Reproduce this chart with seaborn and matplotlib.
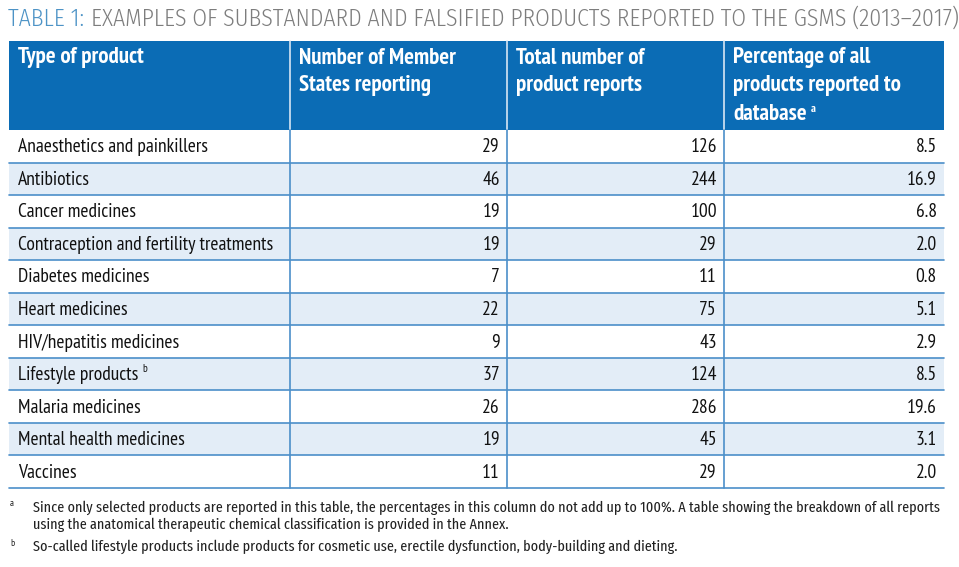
import matplotlib
matplotlib.use("Agg")
import matplotlib.pyplot as plt
import seaborn as sns
import pandas as pd

sns.set_theme(style="white")
plt.rcParams['font.family'] = ['PT Sans Narrow', 'DejaVu Sans']

# table data
products = ["Anaesthetics and painkillers", "Antibiotics", "Cancer medicines",
            "Contraception and fertility treatments", "Diabetes medicines",
            "Heart medicines", "HIV/hepatitis medicines", "Lifestyle products",
            "Malaria medicines", "Mental health medicines", "Vaccines"]
member_states = [29, 46, 19, 19, 7, 22, 9, 37, 26, 19, 11]
product_reports = [126, 244, 100, 29, 11, 75, 43, 124, 286, 45, 29]
percentages = ["8.5", "16.9", "6.8", "2.0", "0.8", "5.1", "2.9", "8.5", "19.6", "3.1", "2.0"]
headers = ["Type of product", "Number of Member\nStates reporting",
           "Total number of\nproduct reports",
           "Percentage of all\nproducts reported to\ndatabase"]
footnotes = [("a", "Since only selected products are reported in this table, the percentages in this column do not add up to 100%. A table showing the breakdown of all reports\nusing the anatomical therapeutic chemical classification is provided in the Annex."),
             ("b", "So-called lifestyle products include products for cosmetic use, erectile dysfunction, body-building and dieting.")]

df = pd.DataFrame({"product": products, "states": member_states,
                   "reports": product_reports, "pct": percentages})

BLUE = "#0b6cb5"
LINE = "#4b8fc9"
STRIPE = "#e3edf7"
INK = "#111111"
TITLE_FONT = ["Fira Sans Condensed", "DejaVu Sans"]
NOTE_FONT = ["Fira Sans Extra Condensed", "DejaVu Sans"]

col_edges = [9, 290, 507, 724, 944]
head_top, head_bot = 41, 130
row_h = (488 - head_bot) / len(df)

fig = plt.figure(figsize=(9.59, 5.67), dpi=100)
ax = fig.add_axes([0, 0, 1, 1])
ax.set_xlim(0, 959)
ax.set_ylim(567, 0)
ax.axis("off")
renderer = fig.canvas.get_renderer()


def right_of(t, gap):
    # x position (data units) just after a text artist
    bb = t.get_window_extent(renderer=renderer)
    return ax.transData.inverted().transform((bb.x1, bb.y1))[0] + gap


# title
t1 = ax.text(8, 19, "TABLE 1:", color="#4d93c6", fontsize=17, va="center", ha="left",
             family=TITLE_FONT, fontweight=350)
ax.text(right_of(t1, 7), 19,
        "EXAMPLES OF SUBSTANDARD AND FALSIFIED PRODUCTS REPORTED TO THE GSMS (2013\u20132017)",
        color="#7d7d7d", fontsize=17, va="center", ha="left",
        family=TITLE_FONT, fontweight=350)

# header
ax.fill_between([col_edges[0], col_edges[-1]], head_top, head_bot, color=BLUE, lw=0)
for x in col_edges[1:-1]:
    ax.plot([x, x], [head_top, head_bot], color="#d6e6f4", lw=1.2)
for i, h in enumerate(headers):
    for k, line in enumerate(h.split("\n")):
        th = ax.text(col_edges[i] + 9, head_top + 17 + k * 28, line, color="white", fontsize=16.5,
                     fontweight="bold", va="center", ha="left")
    if i == 3:
        ax.text(right_of(th, 4), head_top + 12 + k * 28, "a", color="white", fontsize=8.5,
                fontweight="bold", va="center", ha="left")

# body rows
for i, r in df.iterrows():
    y0 = head_bot + i * row_h
    yc = y0 + row_h / 2 + 1
    if i % 2 == 1:
        ax.fill_between([col_edges[0], col_edges[-1]], y0, y0 + row_h, color=STRIPE, lw=0)
    ax.plot([col_edges[0], col_edges[-1]], [y0 + row_h, y0 + row_h], color=LINE, lw=1.2)
    tp = ax.text(col_edges[0] + 9, yc, r["product"], fontsize=14, va="center", ha="left", color=INK)
    if r["product"] == "Lifestyle products":
        ax.text(right_of(tp, 4), yc - 6, "b", fontsize=8, va="center", ha="left", color=INK)
    for j, v in enumerate([r["states"], r["reports"], r["pct"]]):
        ax.text(col_edges[j + 2] - 7, yc, str(v), fontsize=14, va="center", ha="right", color=INK)

for x in col_edges[1:-1]:
    ax.plot([x, x], [head_bot, head_bot + row_h * len(df)], color=LINE, lw=1.2)

# footnotes
fy = [508, 547]
for (mark, txt), y in zip(footnotes, fy):
    ax.text(10, y - 4, mark, fontsize=7, va="center", ha="left", color="#222222")
    for k, line in enumerate(txt.split("\n")):
        ax.text(33, y + k * 17, line, fontsize=11.1, va="center", ha="left", color="#222222",
                family=NOTE_FONT)

fig.savefig("out.png", dpi=100)
